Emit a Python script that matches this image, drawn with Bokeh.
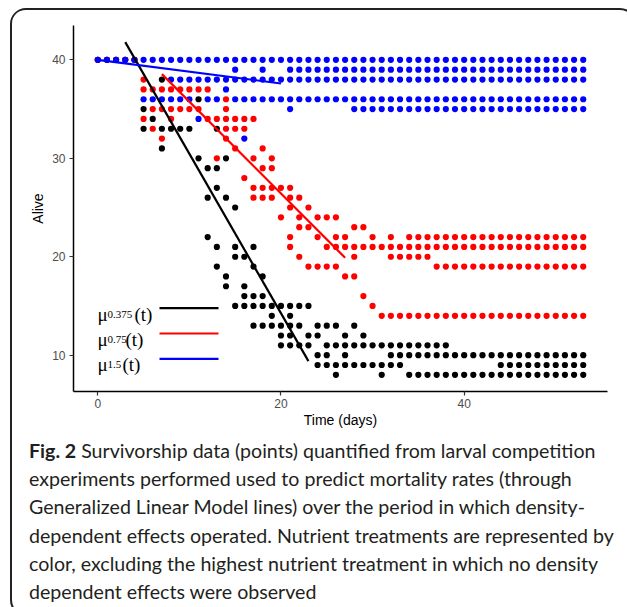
from bokeh.plotting import figure
from bokeh.models import Range1d, Label, FixedTicker, Div
from bokeh.layouts import column
from bokeh.embed import file_html
from bokeh.resources import INLINE


def days(*parts):
    out = []
    for part in parts:
        if isinstance(part, tuple):
            out.extend(range(part[0], part[1] + 1))
        else:
            out.append(part)
    return out


# ---- data: alive level -> days observed ----
black_rows = {
    40: days((0, 4)), 38: [7], 36: [11], 35: [5], 34: [6],
    33: [5, 7, 8, 9, 10, 13], 31: [7], 30: [11, 14], 29: [12, 13], 27: [13],
    26: [12, 14], 25: [15], 22: [12], 21: [13, 15, 17], 20: [15, 16],
    19: [13, 17], 18: [14, 18], 17: [14, 16], 16: [16, 17, 18],
    15: days((15, 23)), 14: [19, 21], 13: days((17, 22), 24, 25, 26, 28),
    12: [20, 21, 23, 24, 27, 29], 11: days((20, 23), (25, 38)),
    10: days(24, 25, 27, (32, 53)), 9: days((24, 33), (44, 53)),
    8: days(26, 31, (34, 53)),
}
red_rows = {
    40: days((0, 4)), 38: [5], 37: days((5, 12)), 36: [14],
    35: days((6, 11), 14), 34: days(5, 8, (12, 17)), 33: [6, 14, 15, 16],
    32: [7, 14], 31: [15, 18], 30: [13, 17, 19], 29: [18, 19], 28: [16],
    27: days((17, 21)), 26: [17, 18, 19, 21, 22], 25: [21, 23],
    24: [20, 22, 24, 25, 26], 23: [22, 23, 28, 29],
    22: days(21, 24, 26, 27, 30, 32, (34, 53)), 21: days(21, (25, 53)),
    20: days(22, 28, (32, 36)), 19: days(23, 24, 25, 26, (37, 53)),
    18: [27, 28], 16: [29], 15: [30], 14: days((31, 53)),
}
blue_rows = {
    40: days((0, 53)), 39: days(15, 18, (21, 53)), 38: days((8, 53)),
    37: [14], 36: days((5, 10), 12, 13, (15, 53)), 35: days(21, (28, 53)),
    34: [11], 32: [16],
}

# fitted GLM lines (end points)
black_fit_day = [3, 23]
black_fit_alive = [41.8, 9.4]
red_fit_day = [7, 27]
red_fit_alive = [38.55, 19.9]
blue_fit_day = [0, 20]
blue_fit_alive = [40.0, 37.6]

legend_subs = ["0.375", "0.75", "1.5"]
x_ticks = [0, 20, 40]
y_ticks = [10, 20, 30, 40]

caption_bold = "Fig. 2"
caption_lines = [
    "Survivorship data (points) quantified from larval competition",
    "experiments performed used to predict mortality rates (through",
    "Generalized Linear Model lines) over the period in which density-",
    "dependent effects operated. Nutrient treatments are represented by",
    "color, excluding the highest nutrient treatment in which no density",
    "dependent effects were observed",
]


def flatten(rows):
    xs, ys = [], []
    for lvl, ds in rows.items():
        for d in ds:
            xs.append(d)
            ys.append(lvl)
    return xs, ys


# ---- layout (page = canvas + (12, 10)) ----
W, H = 612, 428
X0, X1 = -2.65, 55.65
Y0, Y1 = 6.31, 43.49
FL, FR, FT, FB = 61, 595, 15, 381  # frame edges in canvas px

p = figure(width=W, height=H, output_backend="svg", toolbar_location=None,
           x_range=Range1d(X0, X1), y_range=Range1d(Y0, Y1),
           min_border_left=FL, min_border_right=W - FR,
           min_border_top=FT, min_border_bottom=H - FB)
p.outline_line_color = None
p.xgrid.visible = False
p.ygrid.visible = False
p.background_fill_color = "white"
p.border_fill_color = "white"


def cx(px):
    return X0 + (px - FL) * (X1 - X0) / (FR - FL)


def cy(py):
    return Y1 - (py - FT) * (Y1 - Y0) / (FB - FT)


for ax in (p.xaxis[0], p.yaxis[0]):
    ax.axis_line_color = "black"
    ax.axis_line_width = 1.5
    ax.major_tick_line_color = "#333333"
    ax.major_tick_line_width = 1.2
    ax.major_tick_out = 4
    ax.major_tick_in = 0
    ax.minor_tick_line_color = None
    ax.major_label_text_font = "Liberation Sans"
    ax.major_label_text_font_size = "12px"
    ax.major_label_text_color = "#4d4d4d"
    ax.axis_label_text_font = "Liberation Sans"
    ax.axis_label_text_font_size = "14px"
    ax.axis_label_text_font_style = "normal"
    ax.axis_label_text_color = "black"

p.xaxis.ticker = FixedTicker(ticks=x_ticks)
p.yaxis.ticker = FixedTicker(ticks=y_ticks)
p.xaxis.axis_label = "Time (days)"
p.yaxis.axis_label = "Alive"
p.xaxis.major_label_standoff = 3
p.yaxis.major_label_standoff = 4
p.xaxis.axis_label_standoff = 1
p.yaxis.axis_label_standoff = 3

colors = {"black": "#000000", "red": "#ff0000", "blue": "#0000ff"}
for name, rows in (("black", black_rows), ("red", red_rows), ("blue", blue_rows)):
    xs, ys = flatten(rows)
    p.scatter(xs, ys, size=6.2, color=colors[name], line_color=None)

p.line(black_fit_day, black_fit_alive, line_color=colors["black"], line_width=2.2)
p.line(red_fit_day, red_fit_alive, line_color=colors["red"], line_width=2.2)
p.line(blue_fit_day, blue_fit_alive, line_color=colors["blue"], line_width=2.2)

# ---- legend (label then line) ----
leg_rows_py = [297.7, 323.0, 348.3]
paren_off = [37, 28, 25]
for i, (sub, col) in enumerate(zip(legend_subs, ["black", "red", "blue"])):
    yy = cy(leg_rows_py[i])
    base = dict(x=cx(85), y=yy, text_baseline="alphabetic",
                text_font="Liberation Serif", text_color="black")
    p.add_layout(Label(text="\u03bc", text_font_size="19px", y_offset=-6, **base))
    p.add_layout(Label(text=sub, text_font_size="11px", x_offset=10, y_offset=-6, **base))
    p.add_layout(Label(text="(t)", text_font_size="19px", x_offset=paren_off[i],
                       y_offset=-6, **base))
    p.line([cx(147), cx(206)], [yy, yy], line_color=colors[col], line_width=2.2)

# ---- caption panel ----
cap_html = ('<div style="font-family:Lato; font-size:19.6px; line-height:28.2px; '
            'color:#231f20; padding-left:12px; margin-top:-6px; white-space:nowrap;">'
            '<b>' + caption_bold + '</b> ' + "<br>".join(caption_lines) + '</div>')
cap = Div(text=cap_html, width=W, height=166)

root = column(p, cap, spacing=0,
              styles={"border": "2px solid #222222", "border-radius": "16px",
                      "margin-left": "10px", "margin-top": "8px",
                      "overflow": "hidden", "background-color": "white"})

open("out.html", "w").write(file_html(root, INLINE))
